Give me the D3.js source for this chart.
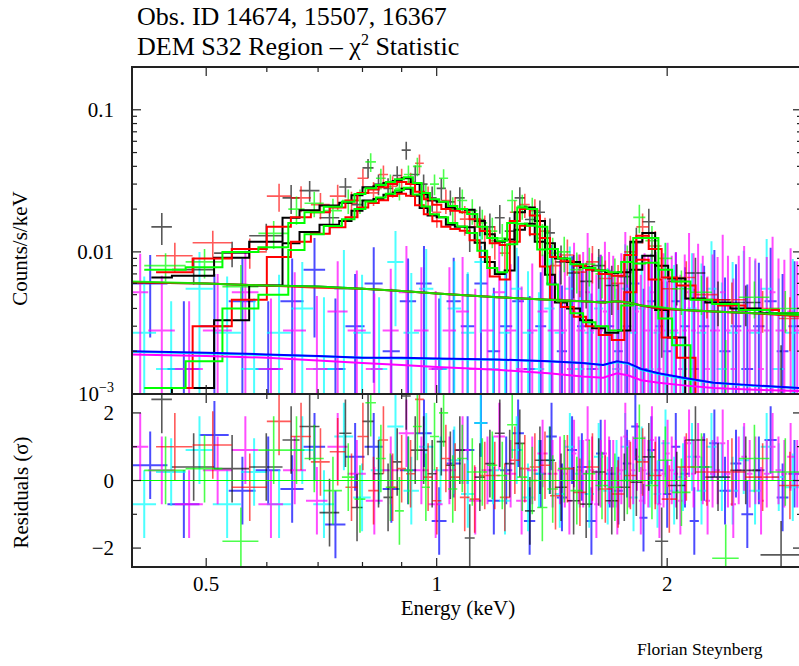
<!DOCTYPE html>
<html>
<head>
<meta charset="utf-8">
<script src="https://cdn.jsdelivr.net/npm/d3@7"></script>
<style>
  body { margin: 0; background: #fff; }
  text { font-family: "Liberation Serif", "Times New Roman", serif; fill: #000; }
</style>
</head>
<body>
<div id="chart"></div>
<script>
// ---- source spectra (bin edges in keV, counts/s/keV) ----
const blackEdges = [0.424,0.451,0.512,0.569,0.629,0.662,0.703,0.746,0.774,0.800,0.827,0.852,0.876,0.900,0.925,0.950,0.973,1.000,1.028,1.056,1.088,1.121,1.156,1.191,1.227,1.264,1.304,1.343,1.385,1.427,1.480,1.539,1.596,1.660,1.726,1.790,1.856,1.929,2.006,2.112,2.243,2.418,2.648,2.986]
const blackData = [0.0150,0.0075,0.0098,0.0130,0.0240,0.0270,0.0174,0.0286,0.0215,0.0390,0.0300,0.0280,0.0345,0.0520,0.0350,0.0300,0.0240,0.0280,0.0225,0.0240,0.0136,0.0169,0.0150,0.0174,0.0140,0.0240,0.0169,0.0190,0.0136,0.0085,0.0071,0.0062,0.0080,0.0058,0.0067,0.0116,0.0163,0.0040,0.0062,0.0071,0.0046,0.0044,0.0010]
const blackErr = [0.0038,0.0016,0.0020,0.0028,0.0055,0.0045,0.0040,0.0045,0.0042,0.0060,0.0050,0.0050,0.0055,0.0075,0.0055,0.0050,0.0048,0.0048,0.0045,0.0045,0.0036,0.0040,0.0036,0.0040,0.0035,0.0045,0.0040,0.0040,0.0036,0.0026,0.0024,0.0022,0.0025,0.0022,0.0024,0.0032,0.0038,0.0022,0.0020,0.0020,0.0016,0.0014,0.0012]
const blackTotal = [0.0066,0.0068,0.0091,0.0118,0.0174,0.0196,0.0212,0.0222,0.0250,0.0285,0.0290,0.0305,0.0315,0.0330,0.0300,0.0255,0.0230,0.0225,0.0205,0.0200,0.0198,0.0165,0.0133,0.0118,0.0122,0.0190,0.0205,0.0165,0.0115,0.0090,0.0085,0.0078,0.0074,0.0071,0.0072,0.0118,0.0136,0.0080,0.0065,0.0047,0.0044,0.0040,0.0037]
const blackSrc = [0.0005,0.0011,0.0033,0.0058,0.0115,0.0138,0.0155,0.0165,0.0195,0.0230,0.0236,0.0252,0.0262,0.0278,0.0248,0.0204,0.0180,0.0175,0.0155,0.0150,0.0149,0.0116,0.0085,0.0070,0.0074,0.0143,0.0158,0.0118,0.0069,0.0044,0.0040,0.0033,0.0029,0.0027,0.0028,0.0075,0.0094,0.0039,0.0025,0.0008,0.0005,0.0002,0.0001]
const blackResid = [2.4,0.4,0.35,0.4,1.2,1.6,-0.95,1.4,-0.8,1.75,0.2,-0.5,0.55,2.5,0.9,0.9,0.2,1.15,0.45,0.9,-1.7,0.1,0.5,1.4,0.5,1.1,-0.9,0.6,0.6,-0.2,-0.6,-0.7,0.25,-0.6,-0.2,-0.05,0.7,-1.8,-0.15,1.2,0.1,0.3,-2.2]

const redEdges = [0.430,0.480,0.540,0.600,0.645,0.685,0.725,0.760,0.788,0.814,0.840,0.864,0.888,0.912,0.937,0.962,0.987,1.014,1.042,1.072,1.104,1.138,1.173,1.209,1.246,1.284,1.323,1.364,1.406,1.453,1.510,1.567,1.628,1.693,1.758,1.823,1.892,1.967,2.059,2.178,2.330,2.530,2.800,2.986]
const redData = [0.0094,0.0116,0.0100,0.0247,0.0240,0.0215,0.0247,0.0220,0.0330,0.0260,0.0350,0.0290,0.0330,0.0310,0.0420,0.0240,0.0190,0.0230,0.0200,0.0170,0.0150,0.0145,0.0120,0.0098,0.0190,0.0215,0.0195,0.0140,0.0080,0.0095,0.0072,0.0085,0.0065,0.0060,0.0100,0.0150,0.0110,0.0055,0.0066,0.0050,0.0046,0.0040,0.0034]
const redErr = [0.0022,0.0025,0.0024,0.0055,0.0050,0.0045,0.0050,0.0045,0.0055,0.0050,0.0055,0.0050,0.0055,0.0050,0.0065,0.0048,0.0042,0.0045,0.0042,0.0040,0.0036,0.0035,0.0032,0.0028,0.0040,0.0042,0.0040,0.0034,0.0026,0.0027,0.0024,0.0025,0.0022,0.0021,0.0030,0.0036,0.0030,0.0020,0.0020,0.0016,0.0015,0.0013,0.0014]
const redTotal = [0.0072,0.0090,0.0105,0.0150,0.0175,0.0190,0.0205,0.0230,0.0260,0.0275,0.0285,0.0300,0.0310,0.0300,0.0265,0.0235,0.0215,0.0200,0.0195,0.0190,0.0170,0.0140,0.0115,0.0112,0.0165,0.0200,0.0180,0.0125,0.0092,0.0086,0.0080,0.0075,0.0070,0.0068,0.0095,0.0130,0.0105,0.0066,0.0058,0.0046,0.0042,0.0039,0.0036]
const redSrc = [0.0011,0.0030,0.0046,0.0092,0.0118,0.0134,0.0149,0.0175,0.0205,0.0221,0.0231,0.0247,0.0257,0.0248,0.0213,0.0184,0.0164,0.0150,0.0145,0.0141,0.0121,0.0092,0.0067,0.0064,0.0118,0.0153,0.0133,0.0079,0.0046,0.0041,0.0035,0.0030,0.0026,0.0024,0.0052,0.0088,0.0064,0.0025,0.0018,0.0007,0.0004,0.0002,0.0001]
const redResid = [1.0,1.05,-0.2,1.75,1.3,0.55,0.85,-0.2,1.3,-0.3,1.2,-0.2,0.35,0.2,2.4,0.1,-0.6,0.65,0.1,-0.5,-0.55,0.15,0.15,-0.5,0.6,0.35,0.4,0.45,-0.45,0.35,-0.35,0.4,-0.25,-0.4,0.15,0.55,0.15,-0.55,0.4,0.25,0.25,0.1,-0.15]

const greenEdges = [0.415,0.470,0.525,0.585,0.640,0.672,0.712,0.752,0.781,0.807,0.833,0.858,0.882,0.906,0.931,0.956,0.980,1.007,1.035,1.064,1.096,1.130,1.164,1.200,1.236,1.274,1.313,1.353,1.395,1.440,1.495,1.553,1.612,1.676,1.742,1.806,1.873,1.948,2.030,2.145,2.290,2.480,2.720,2.986]
const greenData = [0.0080,0.0085,0.0057,0.0135,0.0200,0.0220,0.0195,0.0230,0.0230,0.0430,0.0330,0.0300,0.0280,0.0350,0.0400,0.0250,0.0300,0.0330,0.0200,0.0230,0.0195,0.0160,0.0140,0.0125,0.0230,0.0210,0.0200,0.0125,0.0098,0.0100,0.0075,0.0082,0.0070,0.0068,0.0085,0.0175,0.0120,0.0090,0.0055,0.0052,0.0009,0.0048,0.0040]
const greenErr = [0.0018,0.0020,0.0024,0.0030,0.0045,0.0045,0.0042,0.0045,0.0045,0.0065,0.0055,0.0050,0.0050,0.0055,0.0060,0.0048,0.0050,0.0052,0.0042,0.0045,0.0040,0.0038,0.0034,0.0032,0.0042,0.0042,0.0040,0.0032,0.0028,0.0028,0.0024,0.0025,0.0023,0.0022,0.0026,0.0040,0.0032,0.0026,0.0019,0.0016,0.0015,0.0014,0.0013]
const greenTotal = [0.0075,0.0078,0.0100,0.0108,0.0160,0.0190,0.0208,0.0225,0.0255,0.0280,0.0295,0.0310,0.0325,0.0335,0.0305,0.0260,0.0235,0.0225,0.0210,0.0200,0.0185,0.0150,0.0125,0.0120,0.0160,0.0205,0.0200,0.0150,0.0105,0.0090,0.0082,0.0077,0.0074,0.0072,0.0085,0.0125,0.0125,0.0075,0.0062,0.0046,0.0043,0.0039,0.0037]
const greenSrc = [0.0011,0.0017,0.0040,0.0050,0.0103,0.0133,0.0152,0.0170,0.0200,0.0226,0.0241,0.0257,0.0272,0.0283,0.0253,0.0209,0.0184,0.0175,0.0160,0.0151,0.0136,0.0102,0.0077,0.0072,0.0113,0.0158,0.0153,0.0104,0.0059,0.0045,0.0037,0.0032,0.0030,0.0028,0.0042,0.0083,0.0084,0.0034,0.0022,0.0007,0.0005,0.0002,0.0001]
const greenResid = [0.3,0.35,-1.8,0.9,0.9,0.65,-0.3,0.1,-0.55,2.3,0.65,-0.2,-0.9,0.3,1.6,-0.2,1.3,2.0,-0.25,0.65,0.25,0.25,0.45,0.15,1.65,0.1,0.0,-0.8,-0.25,0.35,-0.3,0.2,-0.15,-0.2,0.0,1.25,-0.15,0.6,-0.35,0.4,-2.3,0.65,0.25]

// ---- background spectra ----
const blueEdges = [0.400,0.445,0.490,0.535,0.580,0.625,0.670,0.715,0.760,0.805,0.850,0.895,0.940,0.985,1.030,1.075,1.120,1.165,1.210,1.255,1.300,1.345,1.390,1.435,1.480,1.525,1.570,1.615,1.660,1.705,1.750,1.795,1.840,1.885,1.930,1.975,2.025,2.080,2.140,2.200,2.270,2.340,2.420,2.500,2.590,2.680,2.780,2.880,2.986]
const blueData = [0.0060,0.0015,0.0030,0.0045,0.0015,0.0045,0.0075,0.0015,0.0030,0.0060,0.0020,0.0045,0.0060,0.0015,0.0045,0.0030,0.0060,0.0020,0.0030,0.0045,0.0015,0.0030,0.0060,0.0020,0.0045,0.0030,0.0015,0.0045,0.0030,0.0020,0.0030,0.0060,0.0015,0.0045,0.0030,0.0020,0.0045,0.0030,0.0015,0.0030,0.0045,0.0020,0.0030,0.0015,0.0030,0.0045,0.0020,0.0030]
const blueErr = [0.0035,0.0030,0.0040,0.0045,0.0030,0.0045,0.0050,0.0032,0.0040,0.0048,0.0035,0.0045,0.0050,0.0032,0.0046,0.0040,0.0050,0.0036,0.0042,0.0048,0.0034,0.0042,0.0052,0.0038,0.0048,0.0044,0.0036,0.0050,0.0045,0.0040,0.0046,0.0056,0.0040,0.0052,0.0046,0.0042,0.0054,0.0048,0.0040,0.0050,0.0058,0.0046,0.0052,0.0044,0.0054,0.0062,0.0050,0.0056]
const blueResid = [0.45,-0.7,1.35,-0.3,0.3,-0.25,1.0,-1.3,0.7,1.0,-0.25,0.3,1.4,-1.2,0.5,0.9,1.7,-0.6,0.3,1.4,-1.2,0.2,1.3,-0.5,0.9,0.4,-1.2,0.8,0.2,-0.3,0.5,1.6,-1.1,0.9,0.3,-0.4,1.0,0.2,-1.2,0.4,1.1,-0.3,0.5,-1.0,0.3,1.2,-0.5,0.2]

const cyanEdges = [0.400,0.430,0.470,0.510,0.555,0.600,0.645,0.690,0.735,0.778,0.820,0.862,0.905,0.948,0.990,1.033,1.076,1.120,1.163,1.206,1.250,1.294,1.338,1.382,1.426,1.470,1.515,1.560,1.605,1.650,1.695,1.740,1.785,1.830,1.875,1.920,1.965,2.015,2.070,2.125,2.185,2.250,2.320,2.395,2.475,2.560,2.650,2.745,2.850,2.986]
const cyanData = [0.0027,0.0015,0.0055,0.0027,0.0015,0.0027,0.0040,0.0015,0.0055,0.0027,0.0015,0.0085,0.0027,0.0055,0.0015,0.0040,0.0027,0.0085,0.0015,0.0027,0.0055,0.0027,0.0015,0.0040,0.0027,0.0055,0.0015,0.0027,0.0040,0.0027,0.0015,0.0055,0.0027,0.0040,0.0015,0.0027,0.0055,0.0027,0.0015,0.0040,0.0027,0.0055,0.0015,0.0027,0.0040,0.0027,0.0055,0.0015,0.0027]
const cyanErr = [0.0040,0.0030,0.0045,0.0040,0.0032,0.0042,0.0045,0.0033,0.0048,0.0042,0.0033,0.0055,0.0044,0.0050,0.0035,0.0046,0.0045,0.0058,0.0036,0.0046,0.0052,0.0046,0.0037,0.0050,0.0047,0.0054,0.0038,0.0048,0.0052,0.0050,0.0040,0.0058,0.0050,0.0055,0.0042,0.0052,0.0060,0.0054,0.0044,0.0058,0.0056,0.0064,0.0046,0.0058,0.0062,0.0060,0.0068,0.0050,0.0062]
const cyanResid = [-0.7,0.25,0.9,-0.7,0.25,-0.7,0.9,-0.7,1.3,-0.5,0.3,1.6,-0.3,1.0,0.3,0.6,-0.4,1.7,0.3,-0.6,0.9,-0.5,0.2,0.6,-0.4,1.0,0.2,-0.4,0.7,-0.3,0.2,1.0,-0.5,0.6,0.2,-0.4,1.1,-0.3,0.1,0.7,-0.3,1.0,0.1,-0.3,0.6,-0.3,1.0,0.1,-0.2]

const magentaEdges = [0.400,0.420,0.455,0.495,0.540,0.585,0.630,0.675,0.720,0.765,0.808,0.850,0.892,0.934,0.976,1.018,1.060,1.102,1.144,1.186,1.228,1.270,1.312,1.354,1.396,1.438,
    1.460,1.480,1.501,1.522,1.543,1.564,1.585,1.606,1.627,1.648,1.669,1.690,1.711,1.732,1.753,1.774,1.795,1.816,1.837,1.858,
    1.879,1.900,1.921,1.942,1.966,1.990,2.015,2.040,2.067,2.095,2.122,2.150,2.180,2.210,2.242,2.275,2.310,2.345,2.382,2.420,
    2.460,2.500,2.542,2.585,2.630,2.675,2.722,2.770,2.820,2.870,2.928,2.986]
const magentaData = [0.0052,0.0028,0.0015,0.0028,0.0052,0.0015,0.0028,0.0015,0.0038,0.0028,0.0015,0.0028,0.0052,0.0028,0.0015,0.0028,0.0038,0.0015,0.0028,0.0052,0.0028,0.0015,0.0028,0.0038,0.0028,
    0.0028,0.0028,0.0015,0.0038,0.0028,0.0028,0.0052,0.0028,0.0015,0.0028,0.0038,0.0028,0.0028,0.0015,0.0028,0.0052,0.0028,0.0028,0.0038,0.0015,
    0.0028,0.0028,0.0052,0.0028,0.0015,0.0028,0.0038,0.0028,0.0028,0.0015,0.0028,0.0052,0.0028,0.0038,0.0028,0.0015,0.0028,0.0028,0.0052,0.0028,
    0.0015,0.0028,0.0038,0.0028,0.0028,0.0015,0.0028,0.0052,0.0028,0.0028,0.0038,0.0028]
const magentaErr = [0.0045,0.0040,0.0030,0.0042,0.0050,0.0032,0.0044,0.0034,0.0048,0.0046,0.0036,0.0048,0.0058,0.0050,0.0038,0.0050,0.0054,0.0040,0.0052,0.0062,0.0054,0.0042,0.0055,0.0058,0.0056,
    0.0070,0.0066,0.0052,0.0078,0.0068,0.0072,0.0084,0.0070,0.0054,0.0068,0.0080,0.0072,0.0066,0.0056,0.0070,0.0086,0.0068,0.0074,0.0080,0.0054,
    0.0070,0.0066,0.0088,0.0072,0.0052,0.0070,0.0078,0.0066,0.0072,0.0054,0.0068,0.0084,0.0070,0.0076,0.0066,0.0052,0.0068,0.0064,0.0080,0.0066,
    0.0050,0.0066,0.0072,0.0064,0.0062,0.0050,0.0064,0.0076,0.0062,0.0060,0.0068,0.0058]
const magentaResid = [1.0,0.3,-0.7,0.3,0.9,-0.7,0.3,-0.6,1.0,0.2,-0.6,0.3,1.4,0.3,-0.7,0.3,0.9,-0.6,0.3,1.3,0.2,-0.6,0.3,0.8,0.2,
    0.3,0.2,-0.6,0.8,0.3,0.2,1.2,0.3,-0.7,0.2,0.8,0.3,0.2,-0.6,0.3,1.3,0.2,0.3,0.7,-0.6,
    0.3,0.2,1.2,0.3,-0.7,0.2,0.8,0.3,0.2,-0.6,0.3,1.1,0.2,0.7,0.3,-0.6,0.2,0.3,1.1,0.2,
    -0.7,0.3,0.7,0.2,0.3,-0.6,0.2,1.0,0.3,0.2,0.7,0.2]

// ---- smooth background model curves ----
const bkgModelE = [0.40,0.50,0.60,0.70,0.80,0.90,1.00,1.20,1.40,1.55,1.65,1.72,1.78,1.85,1.95,2.10,2.30,2.60,2.986]
const blackBkgModel = [0.0061,0.0060,0.0058,0.0057,0.0055,0.0053,0.0051,0.0048,0.0046,0.0045,0.0044,0.0045,0.0044,0.0042,0.0040,0.0039,0.0038,0.0037,0.0036]
const redBkgModel = [0.0061,0.0060,0.0058,0.0056,0.0055,0.0053,0.0051,0.0048,0.0046,0.0045,0.0044,0.0045,0.0044,0.0042,0.0040,0.0039,0.0038,0.0037,0.0035]
const greenBkgModel = [0.0062,0.0060,0.0058,0.0057,0.0055,0.0053,0.0051,0.0048,0.0046,0.0045,0.0044,0.0045,0.0044,0.0042,0.0041,0.0039,0.0038,0.0037,0.0036]
const cyanModel = [0.00198,0.00193,0.00188,0.00184,0.00180,0.00178,0.00176,0.00174,0.00170,0.00165,0.00160,0.00168,0.00163,0.00148,0.00138,0.00128,0.00120,0.00114,0.00110]
const blueModel = [0.00200,0.00195,0.00190,0.00185,0.00180,0.00180,0.00178,0.00175,0.00170,0.00165,0.00160,0.00170,0.00165,0.00150,0.00140,0.00130,0.00120,0.00115,0.00110]
const magentaModel = [0.00190,0.00185,0.00180,0.00172,0.00165,0.00160,0.00155,0.00148,0.00140,0.00133,0.00130,0.00140,0.00135,0.00125,0.00120,0.00115,0.00110,0.00107,0.00105]

// ---- axis ticks ----
const xMajor = [0.5, 1, 2]
const xMinor = [0.4, 0.6, 0.7, 0.8, 0.9, 3]
const yMajor = [0.1, 0.01]
const yMinor = [0.002,0.003,0.004,0.005,0.006,0.007,0.008,0.009,0.02,0.03,0.04,0.05,0.06,0.07,0.08,0.09,0.2]
const rMajor = [-2, 0, 2]
const rMinor = [-1, 1]

const W = 799, H = 666
const L = 132, R = 802, T = 67, M = 394, B = 567

const x = d3.scaleLog().domain([0.4, 3.0]).range([L, R])
const y = d3.scaleLog().domain([1e-3, 0.2]).range([M, T])
const yr = d3.scaleLinear().domain([-2.56, 2.56]).range([B, M])

const svg = d3.select("#chart").append("svg")
    .attr("width", W).attr("height", H)
    .attr("viewBox", [0, 0, W, H])

const defs = svg.append("defs")
defs.append("clipPath").attr("id", "clipTop").append("rect")
    .attr("x", L).attr("y", T).attr("width", R - L).attr("height", M - T)
defs.append("clipPath").attr("id", "clipBot").append("rect")
    .attr("x", L).attr("y", M).attr("width", R - L).attr("height", B - M)

const topG = svg.append("g").attr("clip-path", "url(#clipTop)")
const botG = svg.append("g").attr("clip-path", "url(#clipBot)")

const spectra = [
    { color: "#0000ff", edges: blueEdges, data: blueData, err: blueErr, resid: blueResid, w: 2, op: 0.7 },
    { color: "#00ffff", edges: cyanEdges, data: cyanData, err: cyanErr, resid: cyanResid, w: 2, op: 0.7 },
    { color: "#ff00ff", edges: magentaEdges, data: magentaData, err: magentaErr, resid: magentaResid, w: 2, op: 0.7 },
    { color: "#000000", edges: blackEdges, data: blackData, err: blackErr, resid: blackResid, w: 1.6, op: 0.65 },
    { color: "#ff0000", edges: redEdges, data: redData, err: redErr, resid: redResid, w: 1.6, op: 0.65 },
    { color: "#00ff00", edges: greenEdges, data: greenData, err: greenErr, resid: greenResid, w: 1.6, op: 0.7 }
]

// one path of crosses per spectrum
function crossPath(s, yScale, vals, errs, floorY) {
    let p = ""
    vals.forEach((v, i) => {
        const lo = s.edges[i], hi = s.edges[i + 1], mid = (lo + hi) / 2
        const e = errs ? errs[i] : 1
        const yv = yScale(v)
        const y1 = (v - e > 0 || floorY === undefined) ? yScale(v - e) : floorY
        const y2 = yScale(v + e)
        p += `M${x(lo)},${yv}H${x(hi)}M${x(mid)},${y1}V${y2}`
    })
    return p
}

spectra.forEach(s => {
    topG.append("path")
        .attr("d", crossPath(s, y, s.data, s.err, M + 20))
        .attr("fill", "none").attr("stroke", s.color)
        .attr("stroke-width", s.w).attr("stroke-opacity", s.op)
    botG.append("path")
        .attr("d", crossPath(s, yr, s.resid, null))
        .attr("fill", "none").attr("stroke", s.color)
        .attr("stroke-width", s.w).attr("stroke-opacity", s.op)
})

// step models
const stepLine = d3.line().curve(d3.curveStepAfter).x(d => x(d[0])).y(d => y(d[1]))
function stepPoints(edges, vals) {
    return edges.map((e, i) => [e, vals[Math.min(i, vals.length - 1)]])
}
const smoothLine = d3.line().x(d => x(d[0])).y(d => y(d[1]))

const models = [
    { color: "#000000", edges: blackEdges, total: blackTotal, src: blackSrc, bkg: blackBkgModel },
    { color: "#ff0000", edges: redEdges, total: redTotal, src: redSrc, bkg: redBkgModel },
    { color: "#00ff00", edges: greenEdges, total: greenTotal, src: greenSrc, bkg: greenBkgModel }
]
models.forEach(m => {
    topG.append("path").attr("d", stepLine(stepPoints(m.edges, m.total)))
        .attr("fill", "none").attr("stroke", m.color).attr("stroke-width", 2)
    topG.append("path").attr("d", stepLine(stepPoints(m.edges, m.src)))
        .attr("fill", "none").attr("stroke", m.color).attr("stroke-width", 2)
})
models.forEach(m => {
    topG.append("path").attr("d", smoothLine(bkgModelE.map((e, i) => [e, m.bkg[i]])))
        .attr("fill", "none").attr("stroke", m.color).attr("stroke-width", 2).attr("stroke-opacity", 0.85)
})
const bkgModels = [
    { color: "#00ffff", vals: cyanModel },
    { color: "#0000ff", vals: blueModel },
    { color: "#ff00ff", vals: magentaModel }
]
bkgModels.forEach(m => {
    topG.append("path").attr("d", smoothLine(bkgModelE.map((e, i) => [e, m.vals[i]])))
        .attr("fill", "none").attr("stroke", m.color).attr("stroke-width", 2)
})

// zero line in residuals
botG.append("line").attr("x1", L).attr("x2", R).attr("y1", yr(0)).attr("y2", yr(0))
    .attr("stroke", "#00ff00").attr("stroke-width", 1.2)

// ---- frames and ticks ----
const axisColor = "#222"
const frame = svg.append("g").attr("fill", "none").attr("stroke", axisColor).attr("stroke-width", 2)
frame.append("rect").attr("x", L).attr("y", T).attr("width", R - L).attr("height", M - T)
frame.append("rect").attr("x", L).attr("y", M).attr("width", R - L).attr("height", B - M)

const ticks = svg.append("g").attr("stroke", axisColor).attr("stroke-width", 1.2)
function xTicks(vals, len) {
    vals.forEach(v => {
        const xv = x(v)
        ;[[T, 1], [M, -1], [M, 1], [B, -1]].forEach(([y0, dir]) => {
            ticks.append("line").attr("x1", xv).attr("x2", xv).attr("y1", y0).attr("y2", y0 + dir * len)
        })
    })
}
xTicks(xMajor, 9)
xTicks(xMinor, 5)
function yTicks(vals, scale, len) {
    vals.forEach(v => {
        const yv = scale(v)
        ticks.append("line").attr("x1", L).attr("x2", L + len).attr("y1", yv).attr("y2", yv)
        ticks.append("line").attr("x1", R).attr("x2", R - len).attr("y1", yv).attr("y2", yv)
    })
}
yTicks(yMajor, y, 9)
yTicks(yMinor, y, 5)
yTicks(rMajor, yr, 9)
yTicks(rMinor, yr, 5)

// ---- labels ----
const fs = 21
const labels = svg.append("g").attr("font-size", fs)
labels.selectAll(".xl").data(xMajor).join("text")
    .attr("x", d => x(d)).attr("y", 591).attr("text-anchor", "middle")
    .text(d => d)
labels.selectAll(".yl").data(yMajor).join("text")
    .attr("x", 114).attr("y", d => y(d) + 7).attr("text-anchor", "end")
    .text(d => d)
const t3 = labels.append("text").attr("x", 114).attr("y", M + 7).attr("text-anchor", "end")
t3.append("tspan").text("10")
t3.append("tspan").attr("font-size", 14).attr("dy", -9).text("\u22123")
labels.selectAll(".rl").data(rMajor).join("text")
    .attr("x", 114).attr("y", d => yr(d) + 7).attr("text-anchor", "end")
    .text(d => d < 0 ? "\u2212" + Math.abs(d) : d)

labels.append("text").attr("x", 458).attr("y", 615).attr("text-anchor", "middle").text("Energy (keV)")
labels.append("text").attr("transform", `translate(27,${(T + M) / 2 + 18}) rotate(-90)`)
    .attr("text-anchor", "middle").text("Counts/s/keV")
labels.append("text").attr("transform", `translate(28,${(M + B) / 2 + 12}) rotate(-90)`)
    .attr("text-anchor", "middle").text("Residuals (\u03c3)")

const title = svg.append("g").attr("font-size", 26)
title.append("text").attr("x", 137).attr("y", 25).text("Obs. ID 14674, 15507, 16367")
const t2 = title.append("text").attr("x", 137).attr("y", 55)
t2.append("tspan").text("DEM S32 Region \u2013 \u03c7")
t2.append("tspan").attr("font-size", 16).attr("dy", -10).text("2")
t2.append("tspan").attr("dy", 10).text(" Statistic")

svg.append("text").attr("x", 637).attr("y", 655).attr("font-size", 17.5).text("Florian Steynberg")
</script>
</body>
</html>
